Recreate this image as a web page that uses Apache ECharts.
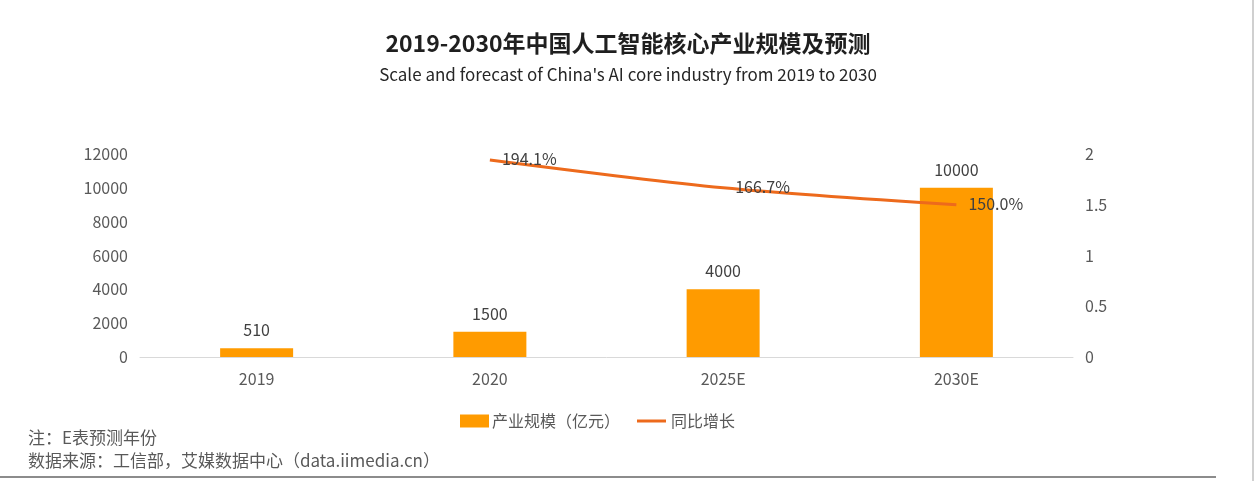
<!DOCTYPE html>
<html>
<head>
<meta charset="utf-8">
<script src="https://cdn.jsdelivr.net/npm/echarts@6/dist/echarts.min.js"></script>
<style>
html,body{margin:0;padding:0;background:#fff;}
#c{width:1254px;height:481px;}
</style>
</head>
<body>
<div id="c"></div>
<script>
var categories = ['2019', '2020', '2025E', '2030E'];
var scaleValues = [510, 1500, 4000, 10000];
var growthValues = ['-', 1.941, 1.667, 1.5];
var growthLabels = ['', '194.1%', '166.7%', '150.0%'];
var leftTicks = [0, 12000, 2000];
var rightTicks = [0, 2, 0.5];

var FONT = '"Noto Sans CJK SC","Noto Sans",sans-serif';
var chart = echarts.init(document.getElementById('c'), null, {renderer: 'canvas'});
chart.setOption({
  backgroundColor: '#fff',
  animation: false,
  textStyle: {fontFamily: FONT},
  title: [{
    text: '2019-2030年中国人工智能核心产业规模及预测',
    left: 623, top: 27, textAlign: 'center',
    textStyle: {fontSize: 23, fontWeight: 'bold', color: '#1f1f1f', fontFamily: FONT}
  }, {
    text: "Scale and forecast of China's AI core industry from 2019 to 2030",
    left: 623, top: 61, textAlign: 'center',
    textStyle: {fontSize: 17, fontWeight: 'normal', color: '#262626', fontFamily: FONT}
  }],
  legend: [{
    left: 455, top: 408, itemGap: 6,
    itemWidth: 29, itemHeight: 13,
    textStyle: {fontSize: 16, color: '#595959', fontFamily: FONT, padding: [0, 0, 0, -2]},
    data: [{name: '产业规模（亿元）', icon: 'rect'}]
  }, {
    left: 632, top: 408,
    itemWidth: 29, itemHeight: 3,
    textStyle: {fontSize: 16, color: '#595959', fontFamily: FONT},
    data: [{name: '同比增长', icon: 'rect'}]
  }],
  grid: {left: 140, right: 181, top: 154, bottom: 124},
  xAxis: {
    type: 'category', data: categories,
    axisLine: {lineStyle: {color: '#d9d9d9', width: 1}},
    axisTick: {show: false},
    axisLabel: {color: '#595959', fontSize: 16, margin: 14, fontFamily: FONT}
  },
  yAxis: [{
    type: 'value', min: leftTicks[0], max: leftTicks[1], interval: leftTicks[2],
    axisLine: {show: false}, axisTick: {show: false}, splitLine: {show: false},
    axisLabel: {color: '#595959', fontSize: 16, margin: 12, fontFamily: FONT,
      formatter: function (v) { return String(v); }}
  }, {
    type: 'value', min: rightTicks[0], max: rightTicks[1], interval: rightTicks[2],
    axisLine: {show: false}, axisTick: {show: false}, splitLine: {show: false},
    axisLabel: {color: '#595959', fontSize: 16, margin: 12, fontFamily: FONT,
      formatter: function (v) { return String(v); }}
  }],
  series: [{
    name: '产业规模（亿元）', type: 'bar', data: scaleValues, barWidth: 73,
    itemStyle: {color: '#FF9B00'},
    label: {show: true, position: 'top', distance: 10, color: '#404040', fontSize: 16, fontFamily: FONT}
  }, {
    name: '同比增长', type: 'line', yAxisIndex: 1, data: growthValues,
    smooth: 0.3, showSymbol: true, symbol: 'circle', symbolSize: 0.1,
    lineStyle: {color: '#ED6A1C', width: 3},
    itemStyle: {color: '#ED6A1C'},
    label: {
      show: true, position: 'right', distance: 12, offset: [0, -1],
      color: '#404040', fontSize: 16, fontFamily: FONT,
      formatter: function (p) { return growthLabels[p.dataIndex]; }
    }
  }],
  graphic: [{
    type: 'text', left: 28, top: 429,
    style: {text: '注：E表预测年份', fill: '#595959', font: '17px ' + FONT}
  }, {
    type: 'text', left: 28, top: 452,
    style: {text: '数据来源：工信部，艾媒数据中心（data.iimedia.cn）', fill: '#595959', font: '17px ' + FONT}
  }, {
    type: 'rect', shape: {x: 0, y: 476, width: 1216, height: 2},
    style: {fill: '#8c8c8c'}
  }, {
    type: 'rect', shape: {x: 1252, y: 0, width: 2, height: 481},
    style: {fill: '#d0d0d0'}
  }]
});
</script>
</body>
</html>
